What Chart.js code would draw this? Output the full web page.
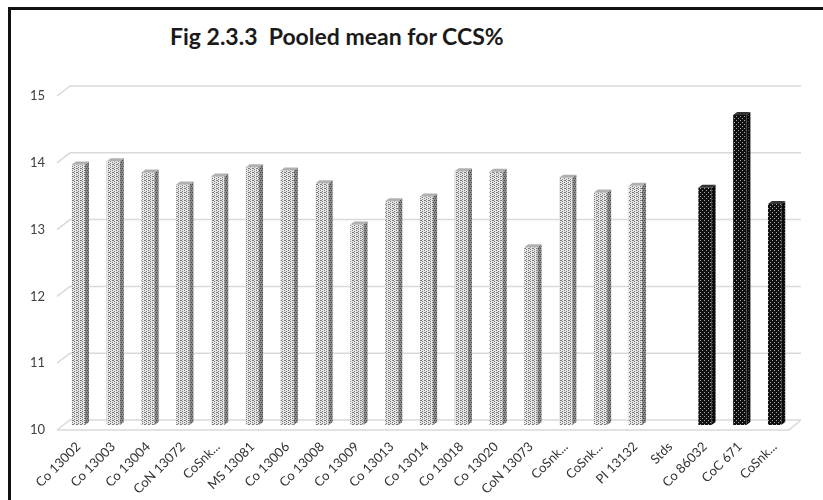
<!DOCTYPE html>
<html>
<head>
<meta charset="utf-8">
<script src="https://cdn.jsdelivr.net/npm/chart.js@4.4.1/dist/chart.umd.min.js"></script>
<style>
  html, body { margin: 0; padding: 0; background: #fff; overflow: hidden; }
  #frame { position: absolute; left: 8px; top: 7px; width: 900px; height: 700px; border: 3px solid #111; }
  #title { position: absolute; left: 170px; top: 22px; font: bold 23px "Lato", "Open Sans", sans-serif; color: #1a1a1a; white-space: pre; }
  #wrap { position: absolute; left: 0; top: 0; width: 823px; height: 560px; }
</style>
</head>
<body>
<div id="frame"></div>
<div id="title">Fig 2.3.3  Pooled mean for CCS%</div>
<div id="wrap"><canvas id="chart" width="823" height="560"></canvas></div>
<script>
// categories and pooled CCS% values
const categories = ["Co 13002", "Co 13003", "Co 13004", "CoN 13072", "CoSnk...", "MS 13081",
  "Co 13006", "Co 13008", "Co 13009", "Co 13013", "Co 13014", "Co 13018", "Co 13020",
  "CoN 13073", "CoSnk...", "CoSnk...", "PI 13132", "Stds", "Co 86032", "CoC 671", "CoSnk..."];
const ccsValues = [13.90, 13.95, 13.78, 13.60, 13.72, 13.86, 13.81, 13.62, 13.00, 13.35,
  13.42, 13.80, 13.79, 12.66, 13.70, 13.48, 13.58, null, 13.55, 14.64, 13.31];
const standards = ["Co 86032", "CoC 671", "CoSnk..."]; // last three bars are the checks
const yTicks = [10, 11, 12, 13, 14, 15];

// small canvas patterns to imitate the dotted fills
function makePattern(bg, dot, pts, w, h) {
  const c = document.createElement("canvas");
  c.width = w; c.height = h;
  const g = c.getContext("2d");
  g.fillStyle = bg;
  g.fillRect(0, 0, w, h);
  g.fillStyle = dot;
  pts.forEach(p => g.fillRect(p[0], p[1], 1, 1));
  return g.createPattern(c, "repeat");
}
const ctx = document.getElementById("chart").getContext("2d");
const lightFront = makePattern("#e6e6e6", "#7a7a7a", [[0, 0], [0, 2], [2, 1], [2, 3], [1, 0]], 4, 4);
const lightSide = makePattern("#8a8a8a", "#4a4a4a", [[0, 0], [1, 2]], 2, 4);
const darkFront = makePattern("#101010", "#a8a8a8", [[0, 0], [2, 2]], 4, 4);
const darkSide = makePattern("#0a0a0a", "#505050", [[1, 1]], 3, 3);

const firstStd = categories.length - standards.length;
const isStd = i => i >= firstStd;

// draws the wall gridlines with a little slant, like the 3-D chart
const wallPlugin = {
  id: "wall",
  beforeDatasetsDraw(chart) {
    const y = chart.scales.y;
    const area = chart.chartArea;
    const c = chart.ctx;
    c.save();
    c.strokeStyle = "#d9d9d9";
    c.lineWidth = 1.5;
    yTicks.forEach(t => {
      const py = y.getPixelForValue(t);
      c.beginPath();
      c.moveTo(area.left - 4, py + 5);
      c.lineTo(area.left + 9, py - 5);
      c.lineTo(area.right + 9, py - 5);
      c.stroke();
    });
    const p0 = y.getPixelForValue(10);
    c.beginPath();
    c.moveTo(area.left - 4, p0 + 5);
    c.lineTo(area.right - 3, p0 + 5);
    c.lineTo(area.right + 9, p0 - 5);
    c.stroke();
    c.restore();
  },
  afterDatasetsDraw(chart) {
    const c = chart.ctx;
    const meta = chart.getDatasetMeta(0);
    const base = chart.scales.y.getPixelForValue(10);
    c.save();
    meta.data.forEach((bar, i) => {
      if (ccsValues[i] == null) return;
      const p = bar.getProps(["x", "y", "width"], true);
      const r = p.x + p.width / 2, l = p.x - p.width / 2;
      const dx = 4, dy = 3;
      c.fillStyle = isStd(i) ? darkSide : lightSide;
      c.beginPath();
      c.moveTo(r, p.y); c.lineTo(r + dx, p.y - dy); c.lineTo(r + dx, base - dy); c.lineTo(r, base);
      c.closePath(); c.fill();
      c.fillStyle = isStd(i) ? "#333" : "#b0b0b0";
      c.beginPath();
      c.moveTo(l, p.y); c.lineTo(l + dx, p.y - dy); c.lineTo(r + dx, p.y - dy); c.lineTo(r, p.y);
      c.closePath(); c.fill();
    });
    c.restore();
  }
};

new Chart(ctx, {
  type: "bar",
  data: {
    labels: categories,
    datasets: [{
      data: ccsValues,
      backgroundColor: c => isStd(c.dataIndex) ? darkFront : lightFront,
      borderWidth: 0,
      barPercentage: 0.38,
      categoryPercentage: 1
    }]
  },
  options: {
    responsive: false,
    animation: false,
    layout: { padding: { left: 8, right: 31, top: 91, bottom: 0 } },
    plugins: { legend: { display: false }, tooltip: { enabled: false } },
    scales: {
      x: {
        grid: { display: false },
        border: { display: false },
        ticks: {
          autoSkip: false, maxRotation: 45, minRotation: 45, padding: 6,
          color: "#333333", font: { family: "Lato", size: 13 }
        },
        afterFit: s => { s.height = 135; }
      },
      y: {
        min: 10, max: 15,
        grid: { display: false, drawTicks: false },
        border: { display: false },
        ticks: {
          stepSize: 1, padding: 16, labelOffset: 5,
          color: "#404040", font: { family: "Lato", size: 13 }
        },
        afterFit: s => { s.width = 53; }
      }
    }
  },
  plugins: [wallPlugin]
});
</script>
</body>
</html>
